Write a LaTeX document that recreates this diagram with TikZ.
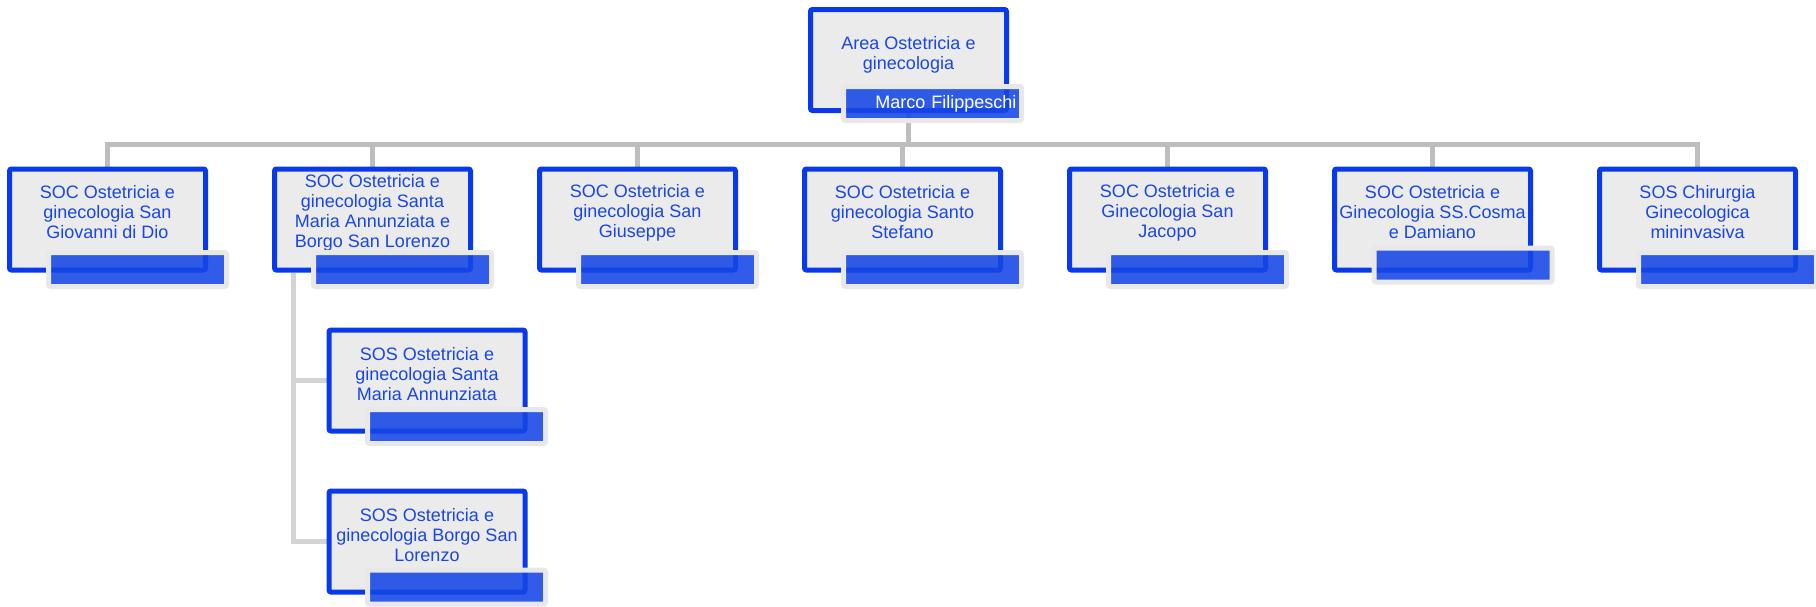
\documentclass[tikz,border=0pt]{standalone}
\usepackage{fontspec}
\setmainfont{Liberation Sans}
\usetikzlibrary{backgrounds}
\definecolor{boxblue}{RGB}{8,58,235}
\definecolor{txtblue}{RGB}{25,70,230}
\definecolor{barblue}{RGB}{20,70,230}
\definecolor{boxfill}{RGB}{235,235,235}
\definecolor{framegray}{RGB}{232,232,232}
\definecolor{linegray}{RGB}{190,190,190}
\definecolor{sublinegray}{RGB}{212,212,212}
\begin{document}
\begin{tikzpicture}[x=1pt,y=-1pt,
 orgbox/.style={draw=boxblue, fill=boxfill, line width=5pt, rounded corners=2pt, minimum width=196pt, minimum height=101pt, inner sep=0pt},
 orgtext/.style={text=txtblue, align=center, font=\fontsize{18}{20}\selectfont, inner sep=0pt},
 namebar/.style={draw=framegray, fill=barblue, fill opacity=0.88, draw opacity=1, text opacity=1, line width=5pt, rounded corners=2pt, minimum width=178pt, minimum height=34pt, inner sep=0pt, text=white, font=\fontsize{18}{20}\selectfont},
 conn/.style={draw=linegray, line width=5pt},
 subconn/.style={draw=sublinegray, line width=5pt}]
\useasboundingbox (0,0) rectangle (1816,606);
% boxes
\node[orgbox] (top) at (908.5,60) {};
\node[orgbox] (c1) at (107.5,219.5) {};
\node[orgbox] (c2) at (372.5,219.5) {};
\node[orgbox] (c3) at (637.5,219.5) {};
\node[orgbox] (c4) at (902.5,219.5) {};
\node[orgbox] (c5) at (1167.5,219.5) {};
\node[orgbox] (c6) at (1432.5,219.5) {};
\node[orgbox] (c7) at (1697.5,219.5) {};
\node[orgbox] (s1) at (427,380.5) {};
\node[orgbox] (s2) at (427,541.5) {};
% texts
\node[orgtext] (ttop) at (908.5,54.5) {Area Ostetricia e\\ginecologia};
\node[orgtext] (t1) at (107.5,212.5) {SOC Ostetricia e\\ginecologia San\\Giovanni di Dio};
\node[orgtext] (t2) at (372.5,212.5) {SOC Ostetricia e\\ginecologia Santa\\Maria Annunziata e\\Borgo San Lorenzo};
\node[orgtext] (t3) at (637.5,212.5) {SOC Ostetricia e\\ginecologia San\\Giuseppe};
\node[orgtext] (t4) at (902.5,212.5) {SOC Ostetricia e\\ginecologia Santo\\Stefano};
\node[orgtext] (t5) at (1167.5,212.5) {SOC Ostetricia e\\Ginecologia San\\Jacopo};
\node[orgtext] (t6) at (1432.5,212.5) {SOC Ostetricia e\\Ginecologia SS.Cosma\\e Damiano};
\node[orgtext] (t7) at (1697.5,212.5) {SOS Chirurgia\\Ginecologica\\mininvasiva};
\node[orgtext] (ts1) at (427,374) {SOS Ostetricia e\\ginecologia Santa\\Maria Annunziata};
\node[orgtext] (ts2) at (427,535.5) {SOS Ostetricia e\\ginecologia Borgo San\\Lorenzo};
% name bars
\node[namebar, text width=168pt, align=right] (btop) at (932.5,103.5) {Marco Filippeschi};
\node[namebar] (b1) at (137.5,269.5) {};
\node[namebar] (b2) at (402.5,269.5) {};
\node[namebar] (b3) at (667.5,269.5) {};
\node[namebar] (b4) at (932.5,269.5) {};
\node[namebar] (b5) at (1197.5,269.5) {};
\node[namebar] (b6) at (1463,265) {};
\node[namebar] (b7) at (1727.5,269.5) {};
\node[namebar] (bs1) at (456.5,426.5) {};
\node[namebar] (bs2) at (456.5,587) {};
% connectors
\coordinate (bus) at (908.5,144.5);
\coordinate (spine) at (293.5,273);
\begin{scope}[on background layer]
\draw[conn] (top.south) -- (top.south |- bus);
\draw[conn] (c1.north) -- (c1.north |- bus) -- (c7.north |- bus) -- (c7.north);
\foreach \i in {2,...,6} \draw[conn] (c\i.north |- bus) -- (c\i.north);
\draw[subconn] (spine) -- (spine |- s2.west) -- (s2.west);
\draw[subconn] (spine |- s1.west) -- (s1.west);
\end{scope}
\end{tikzpicture}
\end{document}
